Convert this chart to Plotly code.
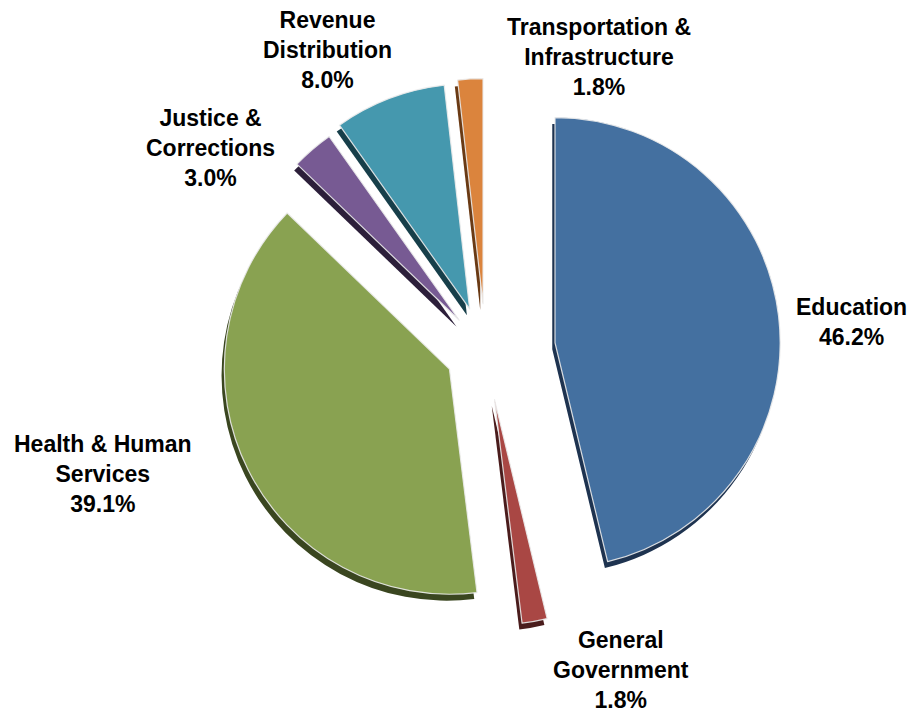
import plotly.graph_objects as go

categories = ["Education", "General<br>Government", "Health & Human<br>Services",
              "Justice &<br>Corrections", "Revenue<br>Distribution",
              "Transportation &<br>Infrastructure"]
values = [46.2, 1.8, 39.1, 3.0, 8.0, 1.8]
colors = ["#4470A0", "#A94744", "#89A251", "#775A93", "#4598AE", "#DB843D"]
shadow_colors = ["#1E3350", "#4A1C1C", "#3A4620", "#2C1F3A", "#173F4A", "#6A3A14"]
pulls = [0.31, 0.22, 0.18, 0.18, 0.2, 0.21]

# label anchor positions (pixel centres in the 916x713 canvas)
label_px = [(843, 314), (613, 662), (95, 466), (202, 140), (319, 42), (591, 49)]

W, H = 916, 713
xdom = [0.1995, 0.8435]
ydom = [0.105, 0.933]
offx, offy = 0.003, 0.009

fig = go.Figure()
fig.add_trace(go.Pie(
    labels=categories, values=values, sort=False, direction="clockwise", rotation=0,
    pull=pulls, marker=dict(colors=shadow_colors, line=dict(width=0)),
    textinfo="none", hoverinfo="skip", showlegend=False,
    domain=dict(x=[xdom[0] - offx, xdom[1] - offx], y=[ydom[0] - offy, ydom[1] - offy]),
))
fig.add_trace(go.Pie(
    labels=categories, values=values, sort=False, direction="clockwise", rotation=0,
    pull=pulls, marker=dict(colors=colors, line=dict(color="rgba(235,235,235,0.9)", width=1.2)),
    textinfo="none", hovertemplate="%{label}: %{value:.1f}%<extra></extra>",
    showlegend=False, domain=dict(x=xdom, y=ydom),
))

for cat, val, (px, py) in zip(categories, values, label_px):
    lines = f"{cat}<br>{val:.1f}%".split("<br>")
    fig.add_annotation(
        text="<br>".join(f"<b>{s}</b>" for s in lines),
        x=px / W, y=1 - py / H, xref="paper", yref="paper",
        xanchor="center", yanchor="middle", showarrow=False, align="center",
        font=dict(family="Liberation Sans, Arial, sans-serif", size=23, color="black"),
    )

fig.update_layout(
    width=W, height=H, margin=dict(l=0, r=0, t=0, b=0),
    paper_bgcolor="white", plot_bgcolor="white", showlegend=False,
)
fig.write_html("out.html")
